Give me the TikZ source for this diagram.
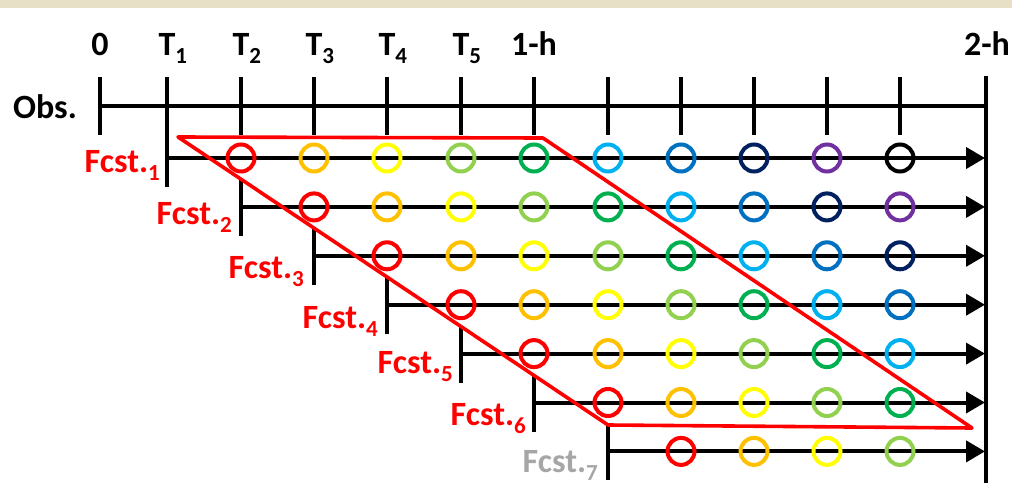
\documentclass[tikz,border=0pt]{standalone}
\usepackage{fontspec}
\setmainfont{Carlito}
\usetikzlibrary{arrows.meta}
\definecolor{cRed}{HTML}{FF0000}
\definecolor{cOrange}{HTML}{FFC000}
\definecolor{cYellow}{HTML}{FFFF00}
\definecolor{cLGreen}{HTML}{92D050}
\definecolor{cGreen}{HTML}{00B050}
\definecolor{cLBlue}{HTML}{00B0F0}
\definecolor{cBlue}{HTML}{0070C0}
\definecolor{cNavy}{HTML}{002060}
\definecolor{cPurple}{HTML}{7030A0}
\definecolor{cBlack}{HTML}{000000}
\definecolor{cGray}{HTML}{A6A6A6}
\definecolor{bandbeige}{HTML}{E8DFC7}
\newcommand{\subtxt}[1]{\raisebox{-8pt}{\fontsize{23}{23}\selectfont #1}}
\tikzset{
  lbl/.style={inner sep=0pt, font=\bfseries\fontsize{34}{34}\selectfont},
  axisline/.style={line width=4pt, line cap=butt},
  rowline/.style={line width=4pt, -{Triangle[length=19pt,width=21pt]}},
  ringnode/.style={circle, draw=#1, line width=4pt, minimum size=27pt, inner sep=0pt},
  redbox/.style={draw=cRed, line width=3.6pt, line join=round},
}
\begin{document}
\begin{tikzpicture}[x=1pt,y=-1pt]
\useasboundingbox (0,0) rectangle (1012,498);
\fill[bandbeige] (0,0) rectangle (1012,8);
\def\xs{{100,167,241,314,387,461,534,608,681,754,827,900,986}}
\def\cols{{"cRed","cOrange","cYellow","cLGreen","cGreen","cLBlue","cBlue","cNavy","cPurple","cBlack"}}
% observation axis
\coordinate (obsL) at (100,106);
\coordinate (obsR) at (986,106);
\draw[axisline] (obsL) -- (obsR);
\foreach \k in {0,...,11}{
  \pgfmathsetmacro\xx{\xs[\k]}
  \coordinate (tt\k) at (\xx,77);
  \coordinate (tb\k) at (\xx,135);
  \draw[axisline] (tt\k) -- (tb\k);
}
\coordinate (endTop) at (986,76);
\coordinate (endBot) at (986,483);
\draw[axisline] (endTop) -- (endBot);
% top labels
\node[lbl, anchor=base] (l0) at (100,55) {0};
\foreach \k in {1,...,5}{
  \pgfmathsetmacro\xx{\xs[\k]}
  \node[lbl, anchor=base] (lT\k) at (\xx,55) {T\rlap{\subtxt{\k}}};
}
\node[lbl, anchor=base] (l1h) at (534,55) {1-h};
\node[lbl, anchor=base] (l2h) at (987,55) {2-h};
\node[lbl, anchor=base east] (lobs) at (77,118) {Obs.};
% forecast rows
\foreach \i in {1,...,7}{
  \pgfmathsetmacro\xx{\xs[\i]}
  \pgfmathsetmacro\yy{158+48.9*(\i-1)}
  \coordinate (rs\i) at (\xx,\yy);
  \coordinate (re\i) at (985,\yy);
  \coordinate (vt\i) at (\xx,\yy-28);
  \coordinate (vb\i) at (\xx,\yy+29);
  \draw[axisline] (vt\i) -- (vb\i);
  \draw[rowline] (rs\i) -- (re\i);
  \pgfmathtruncatemacro\jstart{\i+1}
  \foreach \j in {\jstart,...,11}{
    \pgfmathsetmacro\cx{\xs[\j]}
    \pgfmathtruncatemacro\ci{\j-\i-1}
    \pgfmathsetmacro\cc{\cols[\ci]}
    \node[ringnode=\cc] (c\i-\j) at (\cx,\yy) {};
  }
}
% forecast labels
\node[lbl, text=cRed, anchor=base east] (f1) at (160,172) {Fcst.\subtxt{1}};
\node[lbl, text=cRed, anchor=base east] (f2) at (232,224) {Fcst.\subtxt{2}};
\node[lbl, text=cRed, anchor=base east] (f3) at (304,278) {Fcst.\subtxt{3}};
\node[lbl, text=cRed, anchor=base east] (f4) at (378,328) {Fcst.\subtxt{4}};
\node[lbl, text=cRed, anchor=base east] (f5) at (453,373) {Fcst.\subtxt{5}};
\node[lbl, text=cRed, anchor=base east] (f6) at (526,425) {Fcst.\subtxt{6}};
\node[lbl, text=cGray, anchor=base east] (f7) at (598,472) {Fcst.\subtxt{7}};
% red parallelogram
\coordinate (p1) at (178,137);
\coordinate (p2) at (543,138);
\coordinate (p3) at (972,428);
\coordinate (p4) at (608,425);
\draw[redbox] (p1) -- (p2) -- (p3) -- (p4) -- cycle;
\end{tikzpicture}
\end{document}
